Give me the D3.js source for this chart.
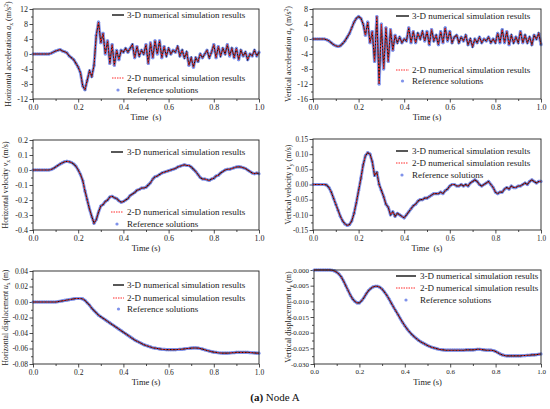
<!DOCTYPE html>
<html>
<head>
<meta charset="utf-8">
<script src="https://cdn.jsdelivr.net/npm/d3@7"></script>
<style>
  body { margin: 0; background: #fff; }
  svg, svg text { font-family: "Liberation Serif", "Times New Roman", serif; }
</style>
</head>
<body>
<div id="chart"></div>
<script>
// time axis (s)
const time = [0.00,0.01,0.02,0.03,0.04,0.05,0.06,0.07,0.08,0.09,0.10,0.11,0.12,0.13,0.14,0.15,0.16,0.17,0.18,0.19,
  0.20,0.21,0.22,0.23,0.24,0.25,0.26,0.27,0.28,0.29,0.30,0.31,0.32,0.33,0.34,0.35,0.36,0.37,0.38,0.39,
  0.40,0.41,0.42,0.43,0.44,0.45,0.46,0.47,0.48,0.49,0.50,0.51,0.52,0.53,0.54,0.55,0.56,0.57,0.58,0.59,
  0.60,0.61,0.62,0.63,0.64,0.65,0.66,0.67,0.68,0.69,0.70,0.71,0.72,0.73,0.74,0.75,0.76,0.77,0.78,0.79,
  0.80,0.81,0.82,0.83,0.84,0.85,0.86,0.87,0.88,0.89,0.90,0.91,0.92,0.93,0.94,0.95,0.96,0.97,0.98,0.99,1.00];

// horizontal acceleration a_x (m/s2)
const accX = [0,0,0,0,0,0,0,0,0.2,0.5,0.8,1.0,1.2,0.8,0.6,0.3,-0.5,-1.0,-1.5,-2.5,
  -3.5,-5,-8.5,-9.5,-7,-4.5,-6,-3,5,8.5,3,5.5,0,3.5,-2.5,2.5,-3,1,-1.5,1,
  0.5,1.5,0.5,1.5,2.5,-1,2,-0.5,1,0,2.5,-2.5,3,-1,3.5,0,3.5,-1,2,-0.5,
  1.5,0,1,0.5,2,-0.5,1,-1,0.5,-3,-1,-3.5,-1,-2,0,-1,0,1,-1,0.5,
  2.5,-1,2,-0.5,1.5,0,2.5,-0.5,1.5,-1,1.5,-1.5,1,-0.5,0.5,-1.5,0,-0.5,1,-0.5,0.5];

// vertical acceleration a_y (m/s2)
const accY = [0,0,0,0,0,0,-0.2,-0.5,-1.0,-1.5,-1.8,-2.0,-1.8,-1.2,-0.5,0.5,1.5,3.0,4.5,5.5,
  6,5.5,4,1,4.5,-1,2,-6,6,-12,4,-8,3,-6,2.5,-3,1,-1,0.5,-1,
  0,-0.5,3,-1,2,-1,1.5,0,2,-0.5,2,-1.5,2.5,-0.5,1,-1.5,2,-1,3,-0.5,
  2,-1,0.5,1,-1,0.5,-0.5,1,-1.5,0,-2,0,-1,0.5,-1,0,-0.5,0.5,-1,0,
  -1,1.5,-1,2.5,-1,2,-1.5,1,-1,0.5,-1,2,-1,1,-1,0.5,-1.5,1,0,1.5,-1.5];

// horizontal velocity v_x (m/s)
const velX = [0,0,0,0,0,0,0,0,0.003,0.01,0.02,0.03,0.04,0.048,0.055,0.058,0.055,0.05,0.04,0.025,
  0,-0.03,-0.07,-0.14,-0.2,-0.26,-0.31,-0.355,-0.33,-0.28,-0.24,-0.23,-0.21,-0.2,-0.18,-0.175,-0.185,-0.19,-0.205,-0.215,
  -0.21,-0.2,-0.19,-0.17,-0.16,-0.15,-0.135,-0.13,-0.12,-0.12,-0.115,-0.1,-0.085,-0.06,-0.045,-0.04,-0.03,-0.02,-0.015,-0.01,
  -0.005,0,0.005,0.01,0.02,0.025,0.03,0.035,0.03,0.03,0.02,0.005,-0.01,-0.03,-0.05,-0.06,-0.06,-0.065,-0.07,-0.06,
  -0.055,-0.04,-0.035,-0.02,-0.01,0,0.005,0.005,0.01,0.015,0.02,0.022,0.02,0.015,0.01,0,-0.01,-0.02,-0.025,-0.02,-0.025];

// vertical velocity v_y (m/s)
const velY = [0,0,0,0,0,0,-0.002,-0.01,-0.025,-0.045,-0.065,-0.085,-0.105,-0.12,-0.13,-0.135,-0.132,-0.12,-0.095,-0.06,
  -0.02,0.02,0.065,0.095,0.105,0.1,0.075,0.03,0.04,0,-0.02,-0.04,-0.065,-0.075,-0.1,-0.09,-0.105,-0.095,-0.1,-0.105,
  -0.11,-0.1,-0.09,-0.08,-0.07,-0.065,-0.055,-0.05,-0.05,-0.045,-0.045,-0.04,-0.035,-0.03,-0.03,-0.03,-0.025,-0.03,-0.02,-0.015,
  -0.005,0,0,-0.005,-0.005,0,-0.005,0,-0.005,0.005,0.01,0.015,0.01,0,-0.005,0,0.005,0.01,0,-0.01,
  -0.025,-0.03,-0.025,-0.025,-0.015,-0.01,-0.015,-0.005,-0.01,-0.01,-0.005,-0.005,0,0.005,0,0.01,0.015,0.01,0.005,0.01,0.01];

// horizontal displacement u_x (m)
const dispX = [0,0,0,0,0,0,0,0,0,0,0,0.0005,0.001,0.0015,0.002,0.0025,0.003,0.0035,0.004,0.0045,
  0.0045,0.0045,0.004,0.002,-0.001,-0.004,-0.008,-0.011,-0.014,-0.017,-0.019,-0.021,-0.023,-0.025,-0.027,-0.029,-0.031,-0.033,-0.035,-0.037,
  -0.039,-0.041,-0.043,-0.045,-0.047,-0.049,-0.0505,-0.052,-0.0535,-0.055,-0.056,-0.057,-0.058,-0.059,-0.0595,-0.06,-0.0605,-0.061,-0.0612,-0.0614,
  -0.0615,-0.0615,-0.0615,-0.0615,-0.0613,-0.061,-0.061,-0.0605,-0.06,-0.0598,-0.0595,-0.0593,-0.0593,-0.0595,-0.06,-0.0608,-0.0617,-0.0625,-0.0633,-0.064,
  -0.0647,-0.065,-0.0655,-0.0658,-0.066,-0.066,-0.066,-0.0658,-0.0655,-0.0653,-0.065,-0.065,-0.065,-0.065,-0.065,-0.065,-0.0652,-0.0655,-0.0657,-0.066,-0.066];

// vertical displacement u_y (m)
const dispY = [0,0,0,0,0,0,0,0,-0.0001,-0.0003,-0.0007,-0.0013,-0.0022,-0.0035,-0.005,-0.0065,-0.008,-0.0092,-0.01,-0.0105,
  -0.0105,-0.0098,-0.0088,-0.0076,-0.0066,-0.0059,-0.0054,-0.0052,-0.0052,-0.0055,-0.0061,-0.007,-0.008,-0.0092,-0.0105,-0.0118,-0.013,-0.0142,-0.0155,-0.0167,
  -0.0178,-0.0188,-0.0197,-0.0205,-0.0212,-0.0218,-0.0224,-0.0229,-0.0233,-0.0237,-0.0241,-0.0244,-0.0247,-0.0249,-0.0251,-0.0253,-0.0254,-0.0255,-0.0256,-0.0256,
  -0.0256,-0.0256,-0.0256,-0.0256,-0.0256,-0.0256,-0.0256,-0.0255,-0.0255,-0.0255,-0.0255,-0.0254,-0.0253,-0.0253,-0.0254,-0.0255,-0.0256,-0.0256,-0.0256,-0.0257,
  -0.026,-0.0264,-0.0268,-0.0271,-0.0273,-0.0274,-0.0274,-0.0274,-0.0274,-0.0274,-0.0274,-0.0274,-0.0273,-0.0273,-0.0272,-0.0272,-0.0271,-0.0271,-0.027,-0.0269,-0.0268];

const legendNames = ["3-D numerical simulation results", "2-D numerical simulation results", "Reference solutions"];
const xTicks = [0, 0.2, 0.4, 0.6, 0.8, 1.0];

const BLUE = "#7f92ea", RED = "#ff2a2a", BLACK = "#111";
const FONT = "'Liberation Serif', 'Times New Roman', serif";

const W = 550, H = 409;
const svg = d3.select("#chart").append("svg").attr("width", W).attr("height", H);

function fmtMinus(f) { return d => f(d).replace("\u2212", "-"); }

function drawPanel(p) {
  const x = d3.scaleLinear().domain([0, 1]).range([p.box[0], p.box[1]]);
  const y = d3.scaleLinear().domain(p.yDomain).range([p.box[3], p.box[2]]);
  const g = svg.append("g");

  // minor ticks
  const xMinor = [0.1, 0.3, 0.5, 0.7, 0.9];
  g.append("g").attr("transform", `translate(0,${p.box[3]})`)
    .call(d3.axisBottom(x).tickValues(xMinor).tickSize(2).tickFormat(""))
    .call(a => a.select(".domain").remove());
  const yStep = p.yTicks[1] - p.yTicks[0];
  const yMinor = p.yTicks.slice(0, -1).map(v => v + yStep / 2);
  g.append("g").attr("transform", `translate(${p.box[0]},0)`)
    .call(d3.axisLeft(y).tickValues(yMinor).tickSize(2).tickFormat(""))
    .call(a => a.select(".domain").remove());

  // major axes
  const xa = g.append("g").attr("transform", `translate(0,${p.box[3]})`)
    .call(d3.axisBottom(x).tickValues(xTicks).tickSize(3.5).tickPadding(2).tickFormat(d3.format(".1f")));
  const ya = g.append("g").attr("transform", `translate(${p.box[0]},0)`)
    .call(d3.axisLeft(y).tickValues(p.yTicks).tickSize(3.5).tickPadding(1.5).tickFormat(fmtMinus(d3.format(p.yFormat))));
  [xa, ya].forEach(a => {
    a.attr("font-family", null).attr("font-size", null);
    a.select(".domain").remove();
    a.selectAll("text").style("font-size", p.tickSize + "px").style("font-family", FONT).attr("fill", "#222");
  });
  g.selectAll(".tick line").attr("stroke", "#222").attr("stroke-width", 0.8);

  // data
  const pts = time.map((t, i) => [t, p.data[i]]);
  const line = d3.line().x(d => x(d[0])).y(d => y(d[1]));
  const lines = g.append("g");
  lines.append("path").datum(pts).attr("d", line)
    .attr("fill", "none").attr("stroke", BLUE).attr("stroke-width", 3.2)
    .attr("stroke-linejoin", "round").attr("opacity", 0.9);
  lines.selectAll("circle").data(pts).join("circle")
    .attr("cx", d => x(d[0])).attr("cy", d => y(d[1])).attr("r", 1.6).attr("fill", BLUE);
  lines.append("path").datum(pts).attr("d", line)
    .attr("fill", "none").attr("stroke", BLACK).attr("stroke-width", 1.1);
  lines.append("path").datum(pts).attr("d", line)
    .attr("fill", "none").attr("stroke", RED).attr("stroke-width", 0.9)
    .attr("stroke-dasharray", "2,1.3");

  // frame
  g.append("rect").attr("x", p.box[0]).attr("y", p.box[2])
    .attr("width", p.box[1] - p.box[0]).attr("height", p.box[3] - p.box[2])
    .attr("fill", "none").attr("stroke", "#222").attr("stroke-width", 0.9);

  // legend
  const lg = p.legend;
  lg.ys.forEach((ly, i) => {
    if (i === 0) {
      g.append("line").attr("x1", lg.x0).attr("x2", lg.x1).attr("y1", ly).attr("y2", ly)
        .attr("stroke", BLACK).attr("stroke-width", 1.4);
    } else if (i === 1) {
      g.append("line").attr("x1", lg.x0).attr("x2", lg.x1).attr("y1", ly).attr("y2", ly)
        .attr("stroke", RED).attr("stroke-width", 1).attr("stroke-dasharray", "1.5,1");
    } else {
      g.append("circle").attr("cx", (lg.x0 + lg.x1) / 2).attr("cy", ly).attr("r", 1.6).attr("fill", BLUE);
    }
    g.append("text").attr("x", lg.tx).attr("y", ly + 3).style("font-size", "9px").attr("fill", "#222")
      .text(legendNames[i]);
  });

  // x label
  g.append("text").attr("x", (p.box[0] + p.box[1]) / 2).attr("y", p.box[3] + 21)
    .attr("text-anchor", "middle").style("font-size", "8.5px").attr("fill", "#222")
    .style("white-space", "pre").text(p.xLabel);

  // y label
  const cy = (p.box[2] + p.box[3]) / 2;
  const yl = g.append("text").attr("transform", `translate(${p.yLabelX},${cy}) rotate(-90)`)
    .attr("text-anchor", "middle").style("font-size", p.labelSize + "px").attr("fill", "#222");
  yl.append("tspan").text(p.yLabel[0] + " ");
  yl.append("tspan").attr("font-style", "italic").text(p.yLabel[1]);
  yl.append("tspan").style("font-size", "5.5px").attr("dy", 2).text(p.yLabel[2]);
  yl.append("tspan").attr("dy", -2).text(" (" + p.yLabel[3]);
  if (p.yLabel[4]) yl.append("tspan").style("font-size", "5.5px").attr("dy", -3).text(p.yLabel[4]);
  yl.append("tspan").attr("dy", p.yLabel[4] ? 3 : 0).text(")");
}

const panels = [
  { box: [33, 259, 9, 99], yDomain: [-12, 12], yTicks: [-12, -8, -4, 0, 4, 8, 12], yFormat: "d",
    data: accX, xLabel: "Time  (s)", yLabelX: 11, tickSize: 8, labelSize: 8,
    yLabel: ["Horizontal acceleration", "a", "x", "m/s", "2"],
    legend: { x0: 112, x1: 124, tx: 127, ys: [15, 78, 90] } },
  { box: [313, 541, 9, 99], yDomain: [-16, 8], yTicks: [-16, -12, -8, -4, 0, 4, 8], yFormat: "d",
    data: accY, xLabel: "Time (s)", yLabelX: 291, tickSize: 8, labelSize: 8,
    yLabel: ["Vertical acceleration", "a", "y", "m/s", "2"],
    legend: { x0: 396, x1: 409, tx: 412, ys: [16, 70, 81] } },
  { box: [33, 259, 140, 230], yDomain: [-0.4, 0.2], yTicks: [-0.4, -0.3, -0.2, -0.1, 0, 0.1, 0.2], yFormat: ".1f",
    data: velX, xLabel: "Time (s)", yLabelX: 8, tickSize: 8, labelSize: 7.8,
    yLabel: ["Horizontal velocity", "v", "x", "m/s"],
    legend: { x0: 111, x1: 123, tx: 127, ys: [152, 212, 224] } },
  { box: [313, 541, 139, 230], yDomain: [-0.15, 0.15], yTicks: [-0.15, -0.1, -0.05, 0, 0.05, 0.1, 0.15], yFormat: ".2f",
    data: velY, xLabel: "Time  (s)", yLabelX: 291, tickSize: 7.2, labelSize: 8,
    yLabel: ["Vertical velocity", "v", "y", "m/s"],
    legend: { x0: 396, x1: 408, tx: 412, ys: [151, 163, 175] } },
  { box: [33, 259, 271, 364], yDomain: [-0.08, 0.04], yTicks: [-0.08, -0.06, -0.04, -0.02, 0, 0.02, 0.04], yFormat: ".2f",
    data: dispX, xLabel: "Time (s)", yLabelX: 8, tickSize: 7.5, labelSize: 7.6,
    yLabel: ["Horizontal displacement", "u", "x", "m"],
    legend: { x0: 113, x1: 124, tx: 127, ys: [285, 298, 309] } },
  { box: [314, 541, 270, 364], yDomain: [-0.03, 0], yTicks: [-0.03, -0.025, -0.02, -0.015, -0.01, -0.005, 0], yFormat: ".3f",
    data: dispY, xLabel: "Time (s)", yLabelX: 291, tickSize: 7, labelSize: 8,
    yLabel: ["Vertical displacement", "u", "y", "m"],
    legend: { x0: 396, x1: 416, tx: 420, ys: [276, 288, 300] } }
];

panels.forEach(drawPanel);

// caption
const cap = svg.append("text").attr("x", 275).attr("y", 401).attr("text-anchor", "middle")
  .style("font-size", "11px").attr("fill", "#111");
cap.append("tspan").attr("font-weight", "bold").text("(a)");
cap.append("tspan").text(" Node A");
</script>
</body>
</html>
